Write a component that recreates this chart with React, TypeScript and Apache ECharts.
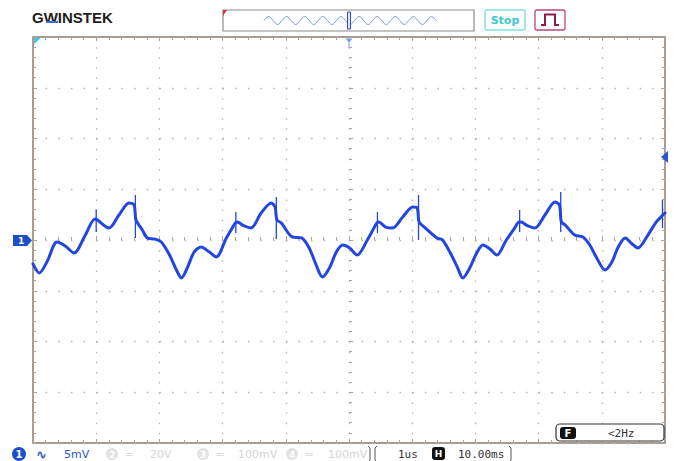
import React, { useEffect, useRef } from "react";
import * as echarts from "echarts";

// Channel 1 trace: time in divisions (10 div across), voltage in mV (5 mV/div)
const timeDiv = [
  0.0, 0.1, 0.22, 0.38, 0.51, 0.65, 0.82, 0.98, 1.02, 1.2, 1.36, 1.52, 1.6, 1.63, 1.73, 1.81, 1.92, 2.03,
  2.16, 2.27, 2.35, 2.44, 2.55, 2.66, 2.79, 2.9, 3.06, 3.2, 3.23, 3.34, 3.45, 3.61, 3.77, 3.83, 3.86, 3.93,
  4.1, 4.25, 4.37, 4.48, 4.58, 4.69, 4.8, 4.9, 5.01, 5.13, 5.29, 5.44, 5.47, 5.58, 5.69, 5.85, 6.01, 6.08,
  6.11, 6.21, 6.39, 6.48, 6.62, 6.72, 6.8, 6.91, 7.02, 7.12, 7.23, 7.34, 7.48, 7.62, 7.69, 7.72, 7.83, 7.94,
  8.1, 8.26, 8.33, 8.36, 8.42, 8.57, 8.7, 8.81, 8.92, 9.05, 9.16, 9.26, 9.37, 9.48, 9.57, 9.73, 9.86, 9.95,
  10.0,
];
const ch1mV = [
  -2.36, -3.25, -2.17, -0.2, -0.59, -1.28, 0.39, 2.07, 1.97, 1.18, 2.46, 3.65, 3.45, 1.97, 0.99, 0.2, 0.1, -0.2,
  -1.48, -2.96, -3.74, -2.76, -1.18, -0.69, -1.18, -1.67, 0.2, 1.67, 1.77, 1.38, 1.18, 2.66, 3.65, 3.25, 1.97, 1.67,
  0.3, 0.2, -0.79, -2.46, -3.65, -2.76, -1.18, -0.49, -0.79, -1.48, 0.0, 1.67, 1.77, 1.28, 1.18, 2.27, 3.25, 3.15,
  1.77, 1.18, 0.2, 0.0, -1.48, -2.76, -3.74, -2.76, -1.28, -0.49, -0.89, -1.48, -0.1, 1.18, 1.77, 1.77, 1.38, 1.18,
  2.46, 3.74, 3.45, 1.77, 1.48, 0.49, 0.3, -0.49, -1.77, -2.96, -2.17, -0.69, 0.2, -0.39, -0.79, 0.49, 1.77, 2.36,
  2.66,
];
// Switching glitches on the trace
const spikeTime = [1.0, 1.62, 3.21, 3.85, 5.45, 6.1, 7.7, 8.35, 9.96];
const spikeHigh = [3.0, 4.43, 2.76, 4.24, 2.76, 4.43, 2.96, 4.73, 3.94];
const spikeLow = [0.8, 0.2, 0.69, 0.1, 0.69, 0.0, 0.79, 0.79, 1.18];

// Memory-bar thumbnail of the record
const thumbWave = [
  0, 1, 0, -1, 0, 1, 0, -1, 0, 1, 0, -1, 0, 1, 0, -1, 0, 1, 0, -1,
  0, 1, 0, -1, 0, 1, 0, -1, 0, 1, 0, -1, 0, 1, 0, -1, 0, 1, 0,
];

const channelLabel = "5mV";
const timeLabel = "1us";
const horizLabel = "10.00ms";
const freqLabel = "<2Hz";

const BLUE = "#2246de";

export default function App() {
  const ref = useRef<HTMLDivElement>(null);
  useEffect(() => {
    const chart = echarts.init(ref.current!, null, { renderer: "svg" });
    const data = timeDiv.map((t, i) => [t, ch1mV[i]]);
    const spikes: any[] = [];
    spikeTime.forEach((t, i) => {
      spikes.push([t, spikeHigh[i]], [t, spikeLow[i]], "-");
    });
    const tickLine = { color: "#a8a59c", width: 1 };
    const xEdge = (position: string, offset: number, split: boolean) => ({
      type: "value",
      gridIndex: 0,
      min: 0,
      max: 10,
      interval: 1,
      position,
      offset,
      axisLine: { show: false, onZero: false },
      axisTick: { show: true, inside: true, length: 4, lineStyle: tickLine },
      minorTick: { show: true, splitNumber: 5, length: 3, lineStyle: tickLine },
      axisLabel: { show: false },
      splitLine: split
        ? { show: true, lineStyle: { color: "#b6b3a6", width: 1.3, type: [1.5, 8.65] } }
        : { show: false },
    });
    const yEdge = (position: string, offset: number, split: boolean) => ({
      type: "value",
      gridIndex: 0,
      min: -20,
      max: 20,
      interval: 5,
      position,
      offset,
      axisLine: { show: false, onZero: false },
      axisTick: { show: true, inside: true, length: 4, lineStyle: tickLine },
      minorTick: { show: true, splitNumber: 5, length: 3, lineStyle: tickLine },
      axisLabel: { show: false },
      splitLine: split
        ? { show: true, lineStyle: { color: "#b6b3a6", width: 1.3, type: [1.5, 11.14] } }
        : { show: false },
    });
    const txt = (text: string, x: number, y: number, fill: string, font: string, align = "left") => ({
      type: "text",
      x,
      y,
      silent: true,
      style: { text, fill, font, textAlign: align, align, textVerticalAlign: "middle", verticalAlign: "middle" },
    });

    chart.setOption({
      animation: false,
      backgroundColor: "#ffffff",
      grid: [
        { left: 33, top: 37, width: 632, height: 406, show: true, borderColor: "#8a7b72", borderWidth: 1.5, backgroundColor: "#fff" },
        { left: 264, top: 15, width: 172, height: 11 },
      ],
      xAxis: [
        xEdge("bottom", 0, true),
        xEdge("top", 0, false),
        xEdge("bottom", -203, false),
        { type: "category", gridIndex: 1, show: false, boundaryGap: false, data: thumbWave.map((_, i) => i) },
      ],
      yAxis: [
        yEdge("left", 0, true),
        yEdge("right", 0, false),
        yEdge("left", -316, false),
        { type: "value", gridIndex: 1, show: false, min: -1.4, max: 1.4 },
      ],
      series: [
        {
          type: "line",
          xAxisIndex: 0,
          yAxisIndex: 0,
          data,
          smooth: 0.3,
          showSymbol: false,
          lineStyle: { color: BLUE, width: 3, join: "round", cap: "round" },
          z: 5,
        },
        {
          type: "line",
          xAxisIndex: 0,
          yAxisIndex: 0,
          data: spikes,
          connectNulls: false,
          showSymbol: false,
          lineStyle: { color: BLUE, width: 1.3 },
          z: 6,
        },
        {
          type: "line",
          xAxisIndex: 3,
          yAxisIndex: 3,
          data: thumbWave,
          smooth: true,
          showSymbol: false,
          lineStyle: { color: "#7a9ada", width: 1 },
          z: 4,
        },
      ],
      graphic: [
        // logo
        txt("GWINSTEK", 32, 17, "#1e1e1e", "bold 15px 'Liberation Sans'"),
        { type: "rect", shape: { x: 46, y: 21, width: 12, height: 2 }, style: { fill: "#3a6fd8" }, silent: true },
        // memory bar
        { type: "rect", shape: { x: 223, y: 10, width: 251, height: 21 }, style: { fill: "none", stroke: "#8c8c8c", lineWidth: 1.2 }, z: 1 },
        { type: "polygon", shape: { points: [[223, 10], [227, 10], [223, 16]] }, style: { fill: "#e03030" }, z: 10 },
        { type: "rect", shape: { x: 347.5, y: 12, width: 3, height: 17 }, style: { fill: "#dfe6fb", stroke: "#3050c8", lineWidth: 1 }, z: 10 },
        // Stop button
        { type: "rect", shape: { x: 485, y: 10, width: 40, height: 20, r: 2 }, style: { fill: "#fff", stroke: "#86e0e2", lineWidth: 1.5 } },
        txt("Stop", 505, 20, "#3fc6cf", "bold 11px 'DejaVu Sans'", "center"),
        // pulse icon
        { type: "rect", shape: { x: 535, y: 10, width: 30, height: 20, r: 2 }, style: { fill: "#fff", stroke: "#b8487a", lineWidth: 1.3 } },
        {
          type: "polyline",
          shape: { points: [[541, 25], [545, 25], [545, 14.5], [555, 14.5], [555, 25], [559, 25]] },
          style: { stroke: "#8e1c48", lineWidth: 2, fill: "none" },
        },
        // markers
        { type: "polygon", shape: { points: [[34, 38], [41, 38], [34, 44]] }, style: { fill: "#44c8d8" }, z: 10 },
        { type: "polygon", shape: { points: [[345.5, 38.5], [352.5, 38.5], [349, 43]] }, style: { fill: "#7fa0e8" }, z: 10 },
        { type: "line", shape: { x1: 349, y1: 43, x2: 349, y2: 48 }, style: { stroke: "#7fa0e8", lineWidth: 1 }, z: 10 },
        { type: "polygon", shape: { points: [[661, 157], [668, 151], [668, 163]] }, style: { fill: "#2b55d4" }, z: 10 },
        {
          type: "polygon",
          shape: { points: [[13, 235], [27, 235], [32, 240.5], [27, 246], [13, 246]] },
          style: { fill: "#1f4fc8" },
          z: 10,
        },
        { ...txt("1", 21, 241, "#fff", "bold 9px 'DejaVu Sans'", "center"), z: 11 },
        // trigger frequency box
        { type: "rect", shape: { x: 556, y: 424, width: 108, height: 17, r: 4 }, style: { fill: "#fff", stroke: "#333", lineWidth: 1.2 }, z: 10 },
        { type: "rect", shape: { x: 560, y: 427, width: 16, height: 12, r: 3 }, style: { fill: "#111" }, z: 11 },
        { ...txt("F", 568, 433.5, "#fff", "bold 10px 'DejaVu Sans'", "center"), z: 12 },
        { ...txt(freqLabel, 608, 433.5, "#333", "11px 'DejaVu Sans Mono'"), z: 12 },
        // bottom status bar: channel 1
        { type: "circle", shape: { cx: 19, cy: 454, r: 7 }, style: { fill: "#1f4fc8" } },
        txt("1", 19, 454.5, "#fff", "bold 10px 'DejaVu Sans'", "center"),
        txt("\u223F", 36, 454, "#1f4fc8", "bold 13px 'DejaVu Sans'"),
        txt(channelLabel, 64, 454.5, "#2a55d0", "11px 'DejaVu Sans'"),
        // channels 2-4 (off)
        { type: "circle", shape: { cx: 112, cy: 454, r: 6 }, style: { fill: "#e2e2e2" } },
        txt("2", 112, 454.5, "#fff", "bold 9px 'DejaVu Sans'", "center"),
        txt("\u2550", 126, 454, "#d8d8d8", "11px 'DejaVu Sans'"),
        txt("20V", 150, 454.5, "#d4d4d4", "11px 'DejaVu Sans'"),
        { type: "circle", shape: { cx: 203, cy: 454, r: 6 }, style: { fill: "#e2e2e2" } },
        txt("3", 203, 454.5, "#fff", "bold 9px 'DejaVu Sans'", "center"),
        txt("\u2550", 217, 454, "#d8d8d8", "11px 'DejaVu Sans'"),
        txt("100mV", 238, 454.5, "#d4d4d4", "11px 'DejaVu Sans'"),
        { type: "circle", shape: { cx: 292, cy: 454, r: 6 }, style: { fill: "#e2e2e2" } },
        txt("4", 292, 454.5, "#fff", "bold 9px 'DejaVu Sans'", "center"),
        txt("\u2550", 306, 454, "#d8d8d8", "11px 'DejaVu Sans'"),
        txt("100mV", 328, 454.5, "#d4d4d4", "11px 'DejaVu Sans'"),
        // timebase bracket
        {
          type: "polyline",
          shape: { points: [[368, 446], [370, 448], [370, 460], [368, 462]] },
          style: { stroke: "#555", lineWidth: 1, fill: "none" },
        },
        {
          type: "polyline",
          shape: { points: [[377, 446], [375, 448], [375, 460], [377, 462]] },
          style: { stroke: "#555", lineWidth: 1, fill: "none" },
        },
        {
          type: "polyline",
          shape: { points: [[509, 446], [511, 448], [511, 460], [509, 462]] },
          style: { stroke: "#555", lineWidth: 1, fill: "none" },
        },
        txt(timeLabel, 398, 454.5, "#333", "11px 'DejaVu Sans Mono'"),
        { type: "rect", shape: { x: 432, y: 447, width: 13, height: 13, r: 3 }, style: { fill: "#111" } },
        txt("H", 438.5, 454, "#fff", "bold 9px 'DejaVu Sans'", "center"),
        txt(horizLabel, 458, 454.5, "#333", "11px 'DejaVu Sans Mono'"),
      ],
    });
    return () => chart.dispose();
  }, []);
  return (
    <div
      ref={ref}
      style={{ position: "absolute", left: 0, top: 0, width: 676, height: 461, background: "#fff" }}
    />
  );
}
